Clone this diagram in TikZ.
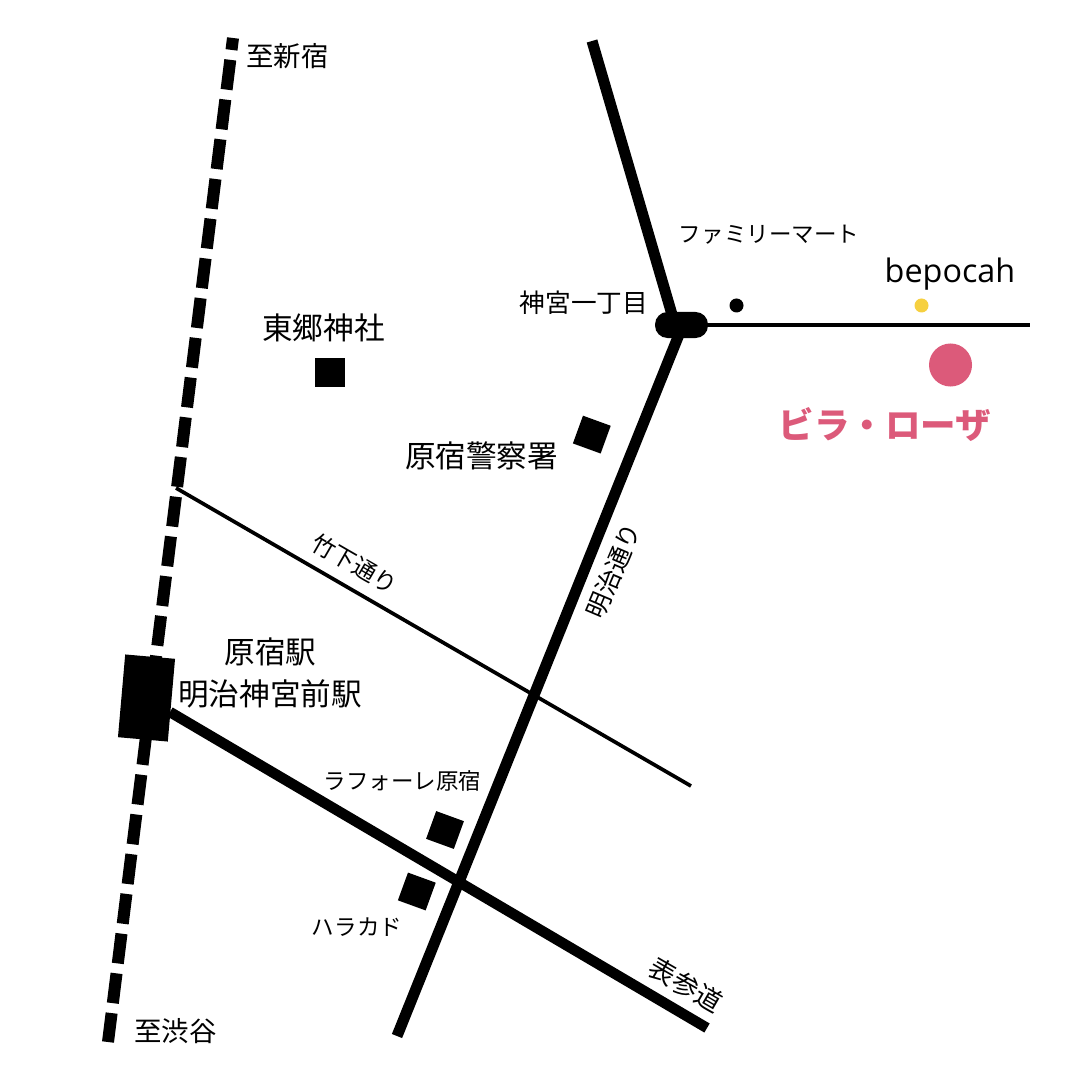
\documentclass[tikz,border=0pt]{standalone}
\usepackage{fontspec}
\setmainfont{Noto Sans CJK JP}
\newfontfamily\latinfont{Open Sans}
\usepackage{xcolor}
\definecolor{rosecol}{HTML}{DC5A7A}
\definecolor{dotcol}{HTML}{F6D040}
\tikzset{
  bigtext/.style={font=\fontsize{8.7}{10}\selectfont,inner sep=0pt},
  midtext/.style={font=\fontsize{7.8}{9}\selectfont,inner sep=0pt},
  smalltext/.style={font=\fontsize{6.4}{8}\selectfont,inner sep=0pt},
  block/.style={fill=black,minimum size=0.295cm,inner sep=0pt},
  dot/.style={circle,inner sep=0pt,minimum size=#1},
}
\begin{document}
\begin{tikzpicture}[x=0.01cm,y=-0.01cm]
\useasboundingbox (0,0) rectangle (1080,1080);
\coordinate (railtop) at (233,38);
\coordinate (railend) at (108,1042);
\coordinate (meijinorth) at (592,41);
\coordinate (meijijoint) at (673,318);
\coordinate (meijisouth) at (397,1036);
\coordinate (meijicross) at (680,332);
\coordinate (takeshitaw) at (176,488);
\coordinate (takeshitae) at (691,786);
\coordinate (omotew) at (170,712);
\coordinate (omotee) at (707,1028);
\coordinate (jingue) at (1030,325);
% station and rail
\node[fill=black,minimum width=0.5cm,minimum height=0.83cm,inner sep=0pt,rotate=-5] (station) at (146.5,698) {};
\draw[line width=0.12cm,dash pattern=on 0.3cm off 0.1cm,dash phase=0.18cm] (railtop) -- (railend);
% roads
\node[fill=black,rounded corners=0.125cm,minimum width=0.53cm,minimum height=0.26cm,inner sep=0pt] (jingu) at (681.5,325) {};
\draw[line width=0.11cm] (meijinorth) -- (meijijoint);
\draw[line width=0.11cm] (meijisouth) -- (meijicross);
\draw[line width=0.037cm] (takeshitaw) -- (takeshitae);
\draw[line width=0.105cm] (omotew) -- (omotee);
\draw[line width=0.04cm] (jingu.center) -- (jingue);
% buildings
\node[block] (togo) at (330,372.5) {};
\node[block,rotate=-20] (police) at (591.8,434.6) {};
\node[block,rotate=-20] (laforet) at (445,830) {};
\node[block,rotate=-20] (harakado) at (416.8,891.5) {};
\node[dot=0.14cm,fill=black] (famima) at (736.5,305.5) {};
\node[dot=0.14cm,fill=dotcol] (bepocahdot) at (921.5,305.5) {};
\node[dot=0.43cm,fill=rosecol] (villadot) at (950.5,365) {};
% labels
\node[midtext] (shinjuku) at (287.5,56) {至新宿};
\node[midtext] (shibuya) at (175.5,1031) {至渋谷};
\node[bigtext] (togolabel) at (323.5,328) {東郷神社};
\node[bigtext] (policelabel) at (481.5,456) {原宿警察署};
\node[bigtext] (harajuku) at (270.5,652) {原宿駅};
\node[bigtext] (meijijingu) at (270,694) {明治神宮前駅};
\node[font=\fontsize{7.3}{9}\selectfont,inner sep=0pt] (jingulabel) at (584,303) {神宮一丁目};
\node[smalltext] (famimalabel) at (769,234.5) {ファミリーマート};
\node[smalltext] (laforetlabel) at (402.5,780.5) {ラフォーレ原宿};
\node[smalltext] (harakadolabel) at (357,927.5) {ハラカド};
\node[font=\fontsize{6.7}{8}\selectfont,inner sep=0pt,rotate=-30] (takeshita) at (354.5,564) {竹下通り};
\node[font=\fontsize{7.1}{8}\selectfont,inner sep=0pt,rotate=67] (meijidori) at (613.5,571) {明治通り};
\node[font=\fontsize{7.5}{9}\selectfont,inner sep=0pt,rotate=-30] (omotesando) at (686,985) {表参道};
\node[font=\latinfont\fontsize{9.2}{11}\selectfont,inner sep=0pt] (bepocah) at (950,274) {bepocah};
\node[font=\fontsize{10.1}{12}\selectfont\bfseries,text=rosecol,inner sep=0pt] (villa) at (885,425) {ビラ・ローザ};
\end{tikzpicture}
\end{document}
